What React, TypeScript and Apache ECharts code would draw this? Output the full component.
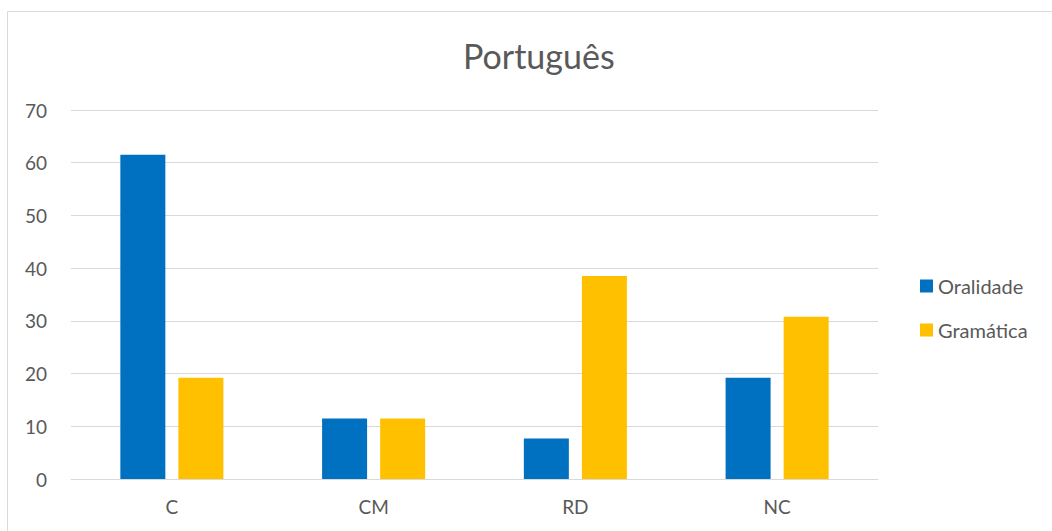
import React, { useEffect, useRef } from "react";
import * as echarts from "echarts";

const categories = ["C", "CM", "RD", "NC"];
const oralidade = [61.5, 11.5, 7.7, 19.2];
const gramatica = [19.2, 11.5, 38.5, 30.8];
const seriesNames = ["Oralidade", "Gramática"];
const titleText = "Português";

export default function App() {
  const ref = useRef<HTMLDivElement>(null);
  useEffect(() => {
    document.body.style.margin = "0";
    const chart = echarts.init(ref.current!, null, { renderer: "svg" });
    const font = "Lato, 'Open Sans', sans-serif";
    chart.setOption({
      animation: false,
      backgroundColor: "#ffffff",
      textStyle: { fontFamily: font },
      title: {
        text: titleText,
        left: 458,
        top: 33,
        textStyle: { fontSize: 34, fontWeight: "normal", color: "#595959", fontFamily: font },
      },
      graphic: [
        {
          type: "rect",
          shape: { x: 7.5, y: 11.5, width: 1060, height: 540 },
          style: { fill: "none", stroke: "#d9d9d9", lineWidth: 1 },
          silent: true,
        },
      ],
      legend: {
        orient: "vertical",
        left: 915,
        top: 271,
        itemWidth: 13,
        itemHeight: 13,
        itemGap: 24,
        icon: "rect",
        textStyle: { fontSize: 20, color: "#595959", fontFamily: font, padding: [0, 0, 0, 0] },
        data: seriesNames,
      },
      grid: { left: 71, right: 174, top: 110, bottom: 52, containLabel: false },
      xAxis: {
        type: "category",
        data: categories,
        axisLine: { lineStyle: { color: "#d9d9d9" } },
        axisTick: { show: false },
        axisLabel: { fontSize: 19, color: "#595959", margin: 18, fontFamily: font },
      },
      yAxis: {
        type: "value",
        min: 0,
        max: 70,
        interval: 10,
        axisLine: { show: false },
        axisTick: { show: false },
        splitLine: { lineStyle: { color: "#d9d9d9" } },
        axisLabel: { fontSize: 19, color: "#595959", margin: 24, fontFamily: font },
      },
      series: [
        {
          name: seriesNames[0],
          type: "bar",
          data: oralidade,
          barWidth: 45,
          barGap: "29%",
          itemStyle: { color: "#0070c0" },
        },
        {
          name: seriesNames[1],
          type: "bar",
          data: gramatica,
          barWidth: 45,
          itemStyle: { color: "#ffc000" },
        },
      ],
    });
    return () => chart.dispose();
  }, []);
  return <div ref={ref} style={{ position: "absolute", left: 0, top: 0, width: 1052, height: 531 }} />;
}
